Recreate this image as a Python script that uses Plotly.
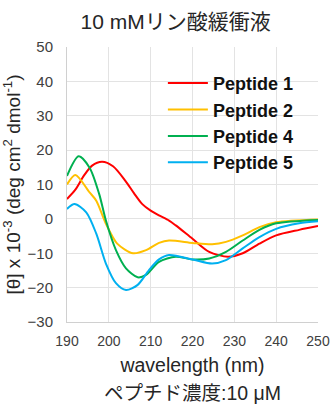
import plotly.graph_objects as go

names = ["Peptide 1", "Peptide 2", "Peptide 4", "Peptide 5"]
colors = ["#FF0000", "#FFC000", "#00B050", "#00B0F0"]

wl1 = [190, 192, 194, 196, 198.4, 201, 204, 206, 208, 210, 212, 214.4, 216, 220, 224, 228.5, 232, 236, 240, 245.5, 250]
v1 = [5.8, 8.5, 12.5, 15.5, 16.6, 15.3, 11, 7.5, 4.3, 2.4, 1, -0.5, -1.9, -5.8, -9.6, -11, -10, -7.2, -4.8, -3.2, -2.1]

wl2 = [190, 192, 195.4, 197, 199.3, 202, 205.8, 208.9, 212, 214.4, 220, 224.7, 228, 232, 236, 240, 250]
v2 = [10, 12.8, 7.7, 5.3, -1.4, -7.2, -10, -9.1, -7, -6.3, -7, -7.4, -6.7, -4.8, -2.4, -1, -0.2]

wl4 = [190, 192.8, 195.4, 197.7, 199.3, 201.7, 204.1, 206.9, 208.9, 212, 216, 220, 224, 228, 232, 236, 240, 250]
v4 = [12.5, 18.2, 14.9, 7.2, -0.5, -9.1, -14.4, -17, -16.3, -12.5, -11, -11.8, -11.5, -9.6, -6.3, -3.2, -1.3, -0.3]

wl5 = [190, 191.8, 194.6, 197, 199.3, 201.7, 204.1, 206.9, 209.6, 212, 214.4, 220, 224.7, 228, 232, 236, 240, 245.5, 250]
v5 = [2.9, 4.3, 1.9, -4.3, -13, -18.7, -20.7, -19.2, -14.9, -11.8, -10.5, -11.8, -13, -12, -8.6, -5.3, -2.9, -1.3, -0.7]

series_x = [wl1, wl2, wl4, wl5]
series_y = [v1, v2, v4, v5]

x_ticks = [190, 200, 210, 220, 230, 240, 250]
y_ticks = [-30, -20, -10, 0, 10, 20, 30, 40, 50]

fig = go.Figure()
for i, (n, c, xs, ys) in enumerate(zip(names, colors, series_x, series_y)):
    fig.add_trace(go.Scatter(x=xs, y=ys, mode="lines", name=n,
                             line=dict(color=c, width=2, shape="spline", smoothing=0.8),
                             legendgroup=f"g{i}"))

font_family = "Liberation Sans, Arial, Noto Sans CJK JP, sans-serif"
fig.update_layout(
    width=332, height=405,
    margin=dict(l=67, r=14, t=47, b=83, autoexpand=False),
    paper_bgcolor="white", plot_bgcolor="white",
    font=dict(family=font_family, color="#404040"),
    title=dict(text="10 mMリン酸緩衝液", x=0.529, xanchor="center", y=0.947, yanchor="middle",
               font=dict(size=21, color="#262626", family=font_family)),
    showlegend=True,
    legend=dict(x=0.382, y=0.935, xanchor="left", yanchor="top", bgcolor="rgba(0,0,0,0)",
                font=dict(size=18, color="#111111", family="Liberation Sans, Arial, sans-serif", weight="bold"),
                tracegroupgap=0, traceorder="grouped", itemwidth=40),
    xaxis=dict(range=[190, 250], tickvals=x_ticks, ticks="", showgrid=True, gridcolor="#e3e3e3",
               gridwidth=1, zeroline=False, showline=True, linecolor="#d0d0d0", mirror=False,
               tickfont=dict(size=14, color="#404040"), ticklabelstandoff=6,
               title=dict(text="wavelength (nm)", font=dict(size=19.5, color="#262626"), standoff=10)),
    yaxis=dict(range=[-30, 50], tickvals=y_ticks, ticks="", showgrid=True, gridcolor="#e3e3e3",
               gridwidth=1, zeroline=False, showline=True, linecolor="#d0d0d0",
               tickfont=dict(size=15, color="#404040"), ticklabelstandoff=10,
               title=dict(text="[θ] x 10<sup>-3</sup> (deg cm<sup>2</sup> dmol<sup>-1</sup>)",
                          font=dict(size=19, color="#262626"), standoff=4)),
)
fig.add_annotation(text="ペプチド濃度:10 μM", x=0.5, y=-0.301, xref="paper", yref="paper",
                   xanchor="center", yanchor="bottom", showarrow=False, borderpad=0,
                   font=dict(size=19.5, color="#262626", family=font_family))

# remove the default 8px page margin so the figure fills the 332x405 window exactly
fig.write_html("out.html", config={"displayModeBar": False},
               post_script="document.body.style.margin='0';")
